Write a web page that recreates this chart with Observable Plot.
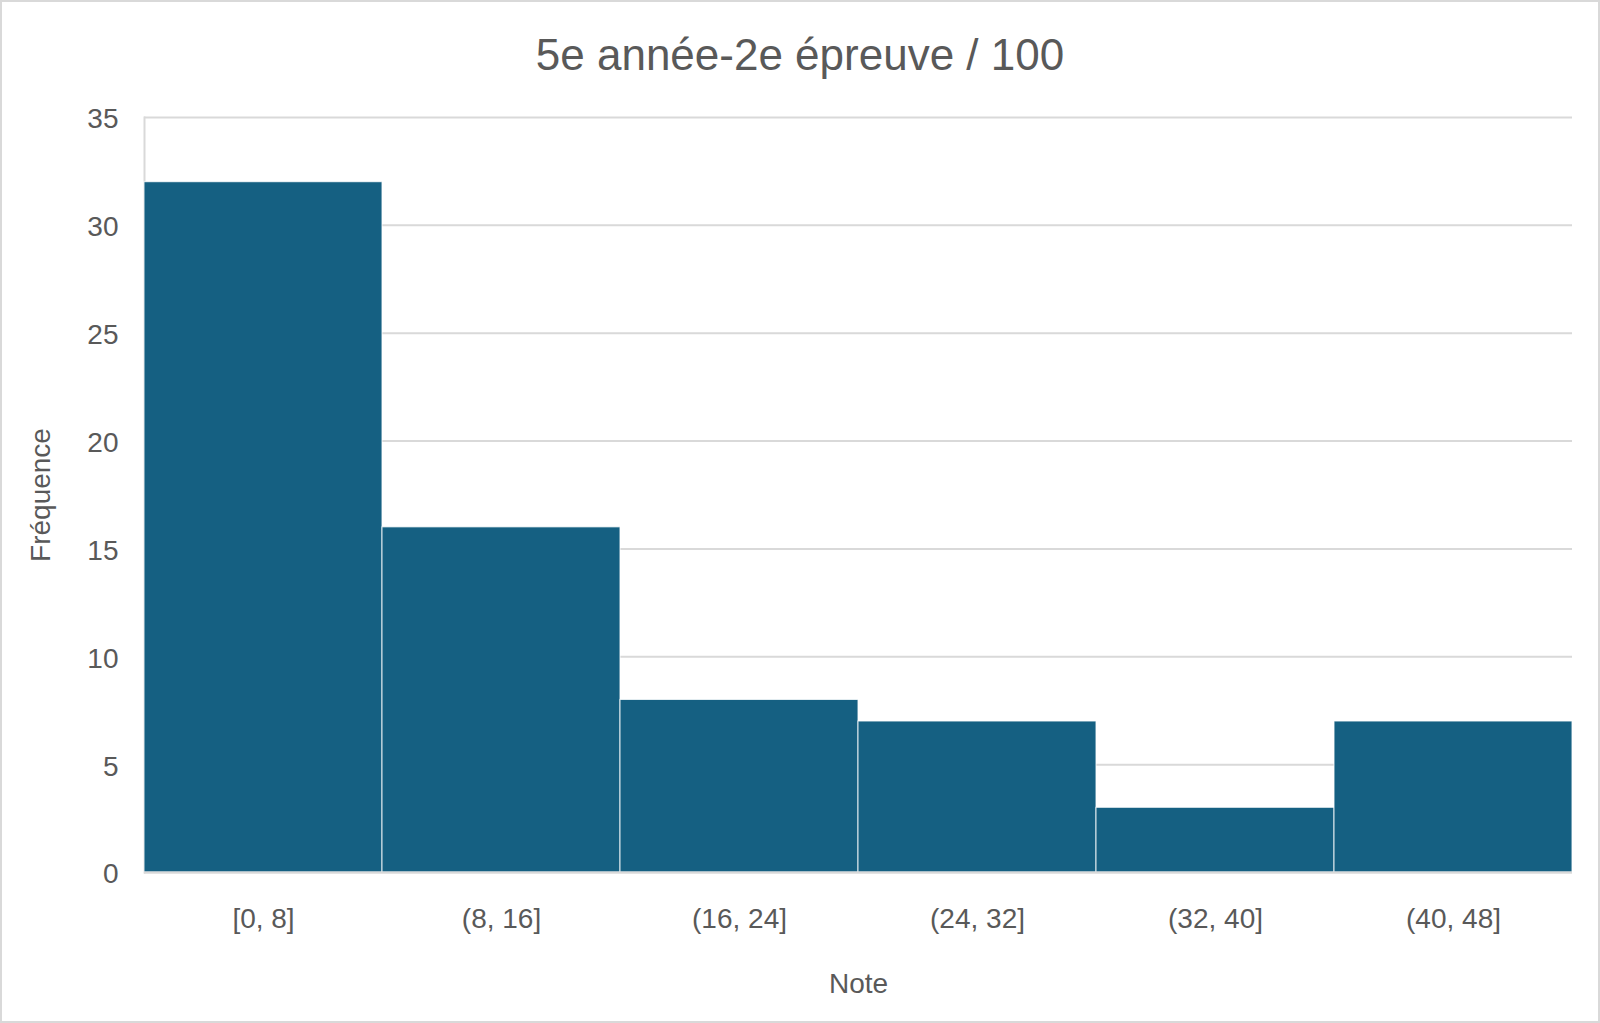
<!DOCTYPE html>
<html><head><meta charset="utf-8">
<script src="https://cdn.jsdelivr.net/npm/d3@7"></script>
<script src="https://cdn.jsdelivr.net/npm/@observablehq/plot@0.6"></script>
<style>
body{margin:0;background:#fff;}
#wrap{position:relative;width:1600px;height:1023px;overflow:hidden;font-family:"Liberation Sans",Arial,sans-serif;background:#fff;}
#border{position:absolute;left:0;top:0;width:1600px;height:1023px;box-sizing:border-box;border:2px solid #d9d9d9;pointer-events:none;}
#title{position:absolute;left:0;top:0;width:1600px;height:100px;line-height:110px;text-align:center;font-size:44px;color:#595959;}
#chart{position:absolute;left:0;top:100px;}
</style></head>
<body>
<div id="wrap">
  <div id="title">5e année-2e épreuve / 100</div>
  <div id="chart"></div>
  <div id="border"></div>
</div>
<script>
const categories = ["[0, 8]", "(8, 16]", "(16, 24]", "(24, 32]", "(32, 40]", "(40, 48]"];
const frequencies = [32, 16, 8, 7, 3, 7];
const yTicks = [0, 5, 10, 15, 20, 25, 30, 35];
const xLabel = "Note";
const yLabel = "Fréquence";

const data = categories.map((c, i) => ({bin: c, freq: frequencies[i]}));

const chart = Plot.plot({
  width: 1600,
  height: 923,
  marginLeft: 144,
  marginRight: 28,
  marginTop: 17,
  marginBottom: 151,
  style: {fontFamily: "'Liberation Sans', Arial, sans-serif", fontSize: "28px", color: "#595959", background: "transparent"},
  x: {domain: categories, padding: 0, label: null},
  y: {domain: [0, 35], ticks: yTicks, label: null},
  marks: [
    Plot.gridY(yTicks, {stroke: "#d9d9d9", strokeOpacity: 1, strokeWidth: 2}),
    Plot.frame({anchor: "left", stroke: "#d9d9d9", strokeWidth: 2}),
    Plot.barY(data, {x: "bin", y: "freq", fill: "#156082", stroke: "#ffffff", strokeWidth: 1, strokeOpacity: 0.85}),
    Plot.ruleY([0], {stroke: "#d9d9d9", strokeWidth: 2}),
    Plot.axisY(yTicks, {tickSize: 0, tickPadding: 26, fontSize: 28, dy: 2, label: yLabel, labelAnchor: "center", labelOffset: 114, labelArrow: "none"}),
    Plot.axisX({tickSize: 0, tickPadding: 36, fontSize: 28, label: xLabel, labelAnchor: "center", labelOffset: 120, labelArrow: "none"})
  ]
});
document.getElementById("chart").appendChild(chart);
</script>
</body></html>
